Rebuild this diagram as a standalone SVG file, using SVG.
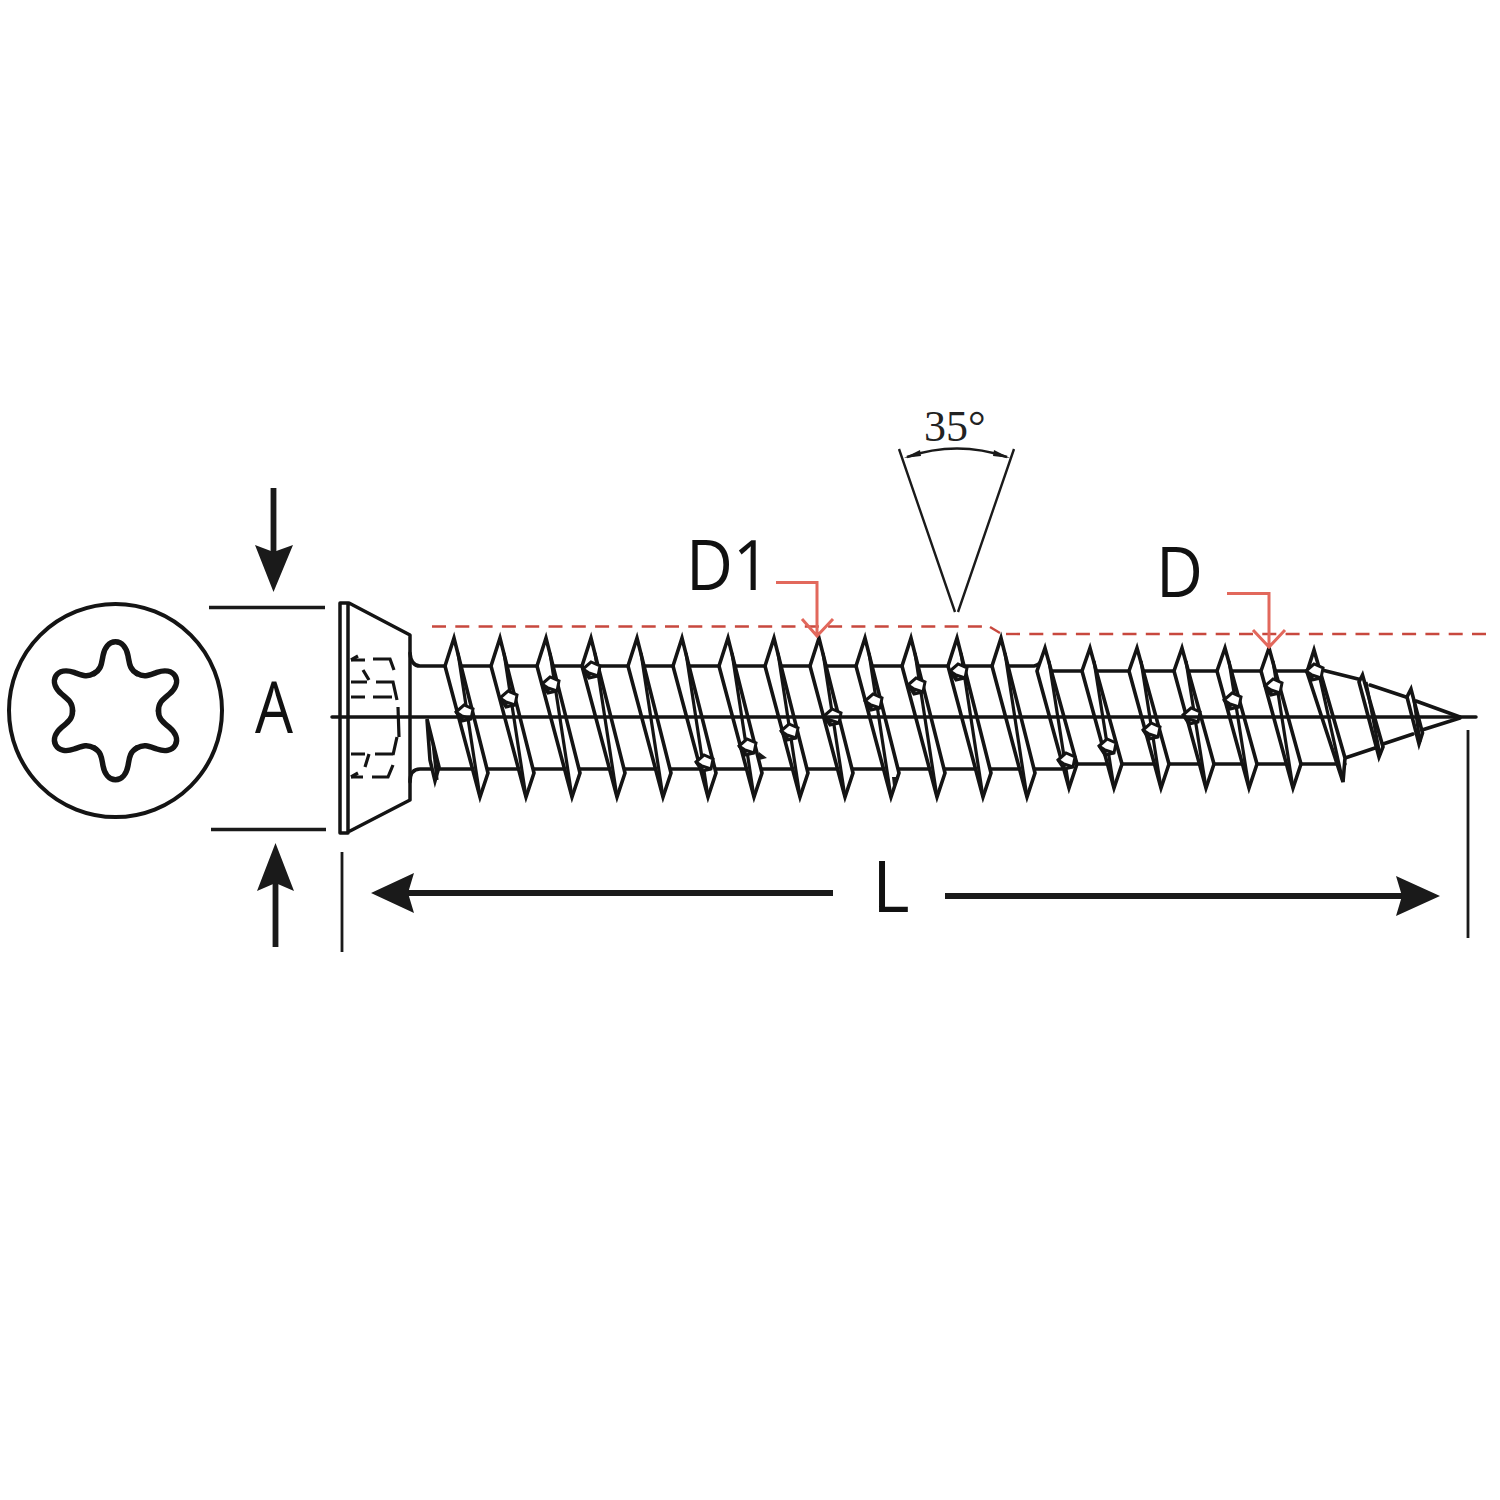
<svg xmlns="http://www.w3.org/2000/svg" width="1500" height="1500" viewBox="0 0 1500 1500">
<style>
.l{fill:none;stroke:#141414;stroke-width:3.500;stroke-linecap:round;stroke-linejoin:round}
.t{fill:#fff;stroke:#141414;stroke-width:3.600;stroke-linejoin:miter}
.d{fill:#fff;stroke:#141414;stroke-width:3;stroke-linejoin:miter}
.thin{fill:none;stroke:#141414;stroke-width:3.200}
.dash{fill:none;stroke:#141414;stroke-width:3.200}
.tx{font-family:"Open Sans","Noto Sans",sans-serif;fill:#111}
.rd{fill:none;stroke:#c8483e;stroke-width:2.400;stroke-dasharray:14 9.300}
.ra{fill:none;stroke:#e2685c;stroke-width:3}
.b{fill:#1a1a1a}
.bl{stroke:#1a1a1a;fill:none}
</style>
<defs>
<g id="T1"><path class="t" d="M0 0L-9 28L26 159L34 135Z"/><path class="thin" d="M4 15L26 159"/></g>
<g id="T2"><path class="t" d="M0 0L-8 23L24 140L32 116Z"/><path class="thin" d="M4 13L24 140"/></g>
<g id="D"><path class="d" d="M-9 -1L-1 -8L8 -4L6 6L-3 8Z"/><path class="thin" d="M-9 -1L-3 3L6 6M-3 3L-3 8"/></g>
<path id="lobe" d="M-21.500 -37.200C-14 -41.500 -14 -47 -12.500 -55C-11 -63 -6.500 -69 0 -69C6.500 -69 11 -63 12.500 -55C14 -47 14 -41.500 21.500 -37.200" fill="none" stroke="#141414" stroke-width="5.500" stroke-linecap="round"/>
</defs>
<rect width="1500" height="1500" fill="#fff"/>

<g id="head-view">
<circle cx="115.500" cy="710.500" r="106.500" fill="none" stroke="#141414" stroke-width="4"/>
<g transform="translate(115.500 710.700)">
<use href="#lobe"/><use href="#lobe" transform="rotate(60)"/><use href="#lobe" transform="rotate(120)"/><use href="#lobe" transform="rotate(180)"/><use href="#lobe" transform="rotate(240)"/><use href="#lobe" transform="rotate(300)"/>
</g>
</g>

<g id="screw">
<path class="l" d="M410 653Q411 666 420 666H1034Q1041 665 1043 656M1050 671H1320M410 782Q410 769 420 769H1062M1062 764H1345"/>
<path class="l" d="M340 603H348V833H340ZM349 603L410 635V800L350 831"/>
<g id="recess" class="dash">
<path d="M351 660L365 660M373 659L390 659L394 670M363 670L369 680M351 682L367 682M376 682L393 682L397 700M351 697L365 697M373 697L392 697M398 707L399 737M397 737L393 755M351 754L365 754M375 754L393 754M369 754L365 767M351 777L363 777M372 777L388 777L393 765"/>
<path d="M351 660L358 656M351 777L358 773"/>
</g>
<path class="t" d="M427 719L439 767L435 781L430 760Z"/>
<path class="thin" d="M433 743L437 780"/>
<g id="threads-d1">
<use href="#T1" x="454" y="638"/><use href="#T1" x="500" y="638"/><use href="#T1" x="546" y="638"/><use href="#T1" x="591" y="638"/><use href="#T1" x="637" y="638"/><use href="#T1" x="682" y="638"/><use href="#T1" x="728" y="638"/><use href="#T1" x="774" y="638"/><use href="#T1" x="819" y="638"/><use href="#T1" x="865" y="638"/><use href="#T1" x="911" y="638"/><use href="#T1" x="957" y="638"/><use href="#T1" x="1001" y="638"/>
</g>
<g id="threads-d">
<use href="#T2" x="1045" y="648"/><use href="#T2" x="1090" y="648"/><use href="#T2" x="1137" y="648"/><use href="#T2" x="1182" y="648"/><use href="#T2" x="1225" y="648"/><use href="#T2" x="1269" y="648"/>
</g>
<path class="l" d="M1322 670L1362 680M1370 685L1406 697M1416 701L1460 717M1345 758L1375 748M1383 744L1413 734M1422 730L1460 718"/>
<path class="t" d="M1314 650L1307 672L1343 782L1345 758Z"/>
<path class="thin" d="M1317 665L1343 782"/>
<path class="t" d="M1362.500 675L1359 682L1379 757L1383 747Z"/>
<path class="thin" d="M1366 682L1380 755"/>
<path class="t" d="M1411 689L1407 697L1419 744L1422.500 733Z"/>
<path class="thin" d="M1414 700L1420 742"/>
<g id="diamonds">
<use href="#D" x="465" y="713"/><use href="#D" x="509" y="699"/><use href="#D" x="551" y="685"/><use href="#D" x="592" y="670"/><use href="#D" x="705" y="763"/><use href="#D" x="748" y="747"/><use href="#D" x="790" y="732"/><use href="#D" x="833" y="717"/><use href="#D" x="874" y="702"/><use href="#D" x="917" y="686"/><use href="#D" x="959" y="672"/><use href="#D" x="1067" y="761"/><use href="#D" x="1108" y="747"/><use href="#D" x="1152" y="731"/><use href="#D" x="1192" y="716"/><use href="#D" x="1233" y="701"/><use href="#D" x="1274" y="687"/><use href="#D" x="1315" y="672"/>
</g>
<path class="b" d="M759 752L767 758L759 760ZM892 777L899 777L893 786Z"/>
<path class="l" d="M332 717H1476"/>
</g>

<g id="connectors">
<path class="rd" d="M432 626.500H986"/>
<path class="rd" d="M990 627L1000 633" stroke-dasharray="none"/>
<path class="rd" d="M1006 634H1490"/>
<path class="ra" d="M776 582.500H817V636M802 619L817 636L833 619"/>
<path class="ra" d="M1227 593.500H1269V647M1253 630L1269 647L1285 630"/>
<path class="bl" stroke-width="3.500" d="M209 607.500H325M211 829.500H326"/>
<path class="bl" stroke-width="2.800" d="M342 852V952M1468 730V938"/>
<path class="bl" stroke-width="5.800" d="M273.500 488V560M275.500 947V878M404 893H833M945 896H1407"/>
<path class="b" d="M273.500 592L255 545L273.500 552L293 545Z"/>
<path class="b" d="M275.500 843L294 891L275.500 883L257 891Z"/>
<path class="b" d="M371 893L414 873L408 893L414 913Z"/>
<path class="b" d="M1440 896L1396 876L1402 896L1396 916Z"/>
<path class="bl" stroke-width="2.400" d="M899 449L955 612M1014 449L958 612"/>
<path class="bl" stroke-width="2.600" d="M907 457Q957 440 1007 457"/>
<path class="b" d="M904 458L920 450L921 456ZM1010 458L994 450L993 456Z"/>
</g>

<g id="labels">
<text class="tx" x="686" y="590" font-size="70" textLength="84" lengthAdjust="spacingAndGlyphs">D1</text>
<text class="tx" x="1156" y="597" font-size="70" textLength="47" lengthAdjust="spacingAndGlyphs">D</text>
<text class="tx" x="255" y="733" font-size="71" textLength="38" lengthAdjust="spacingAndGlyphs">A</text>
<text class="tx" x="872" y="912" font-size="72">L</text>
<text x="924" y="441" font-size="44" font-family="'Liberation Serif',serif" fill="#222">35°</text>
</g>
</svg>
